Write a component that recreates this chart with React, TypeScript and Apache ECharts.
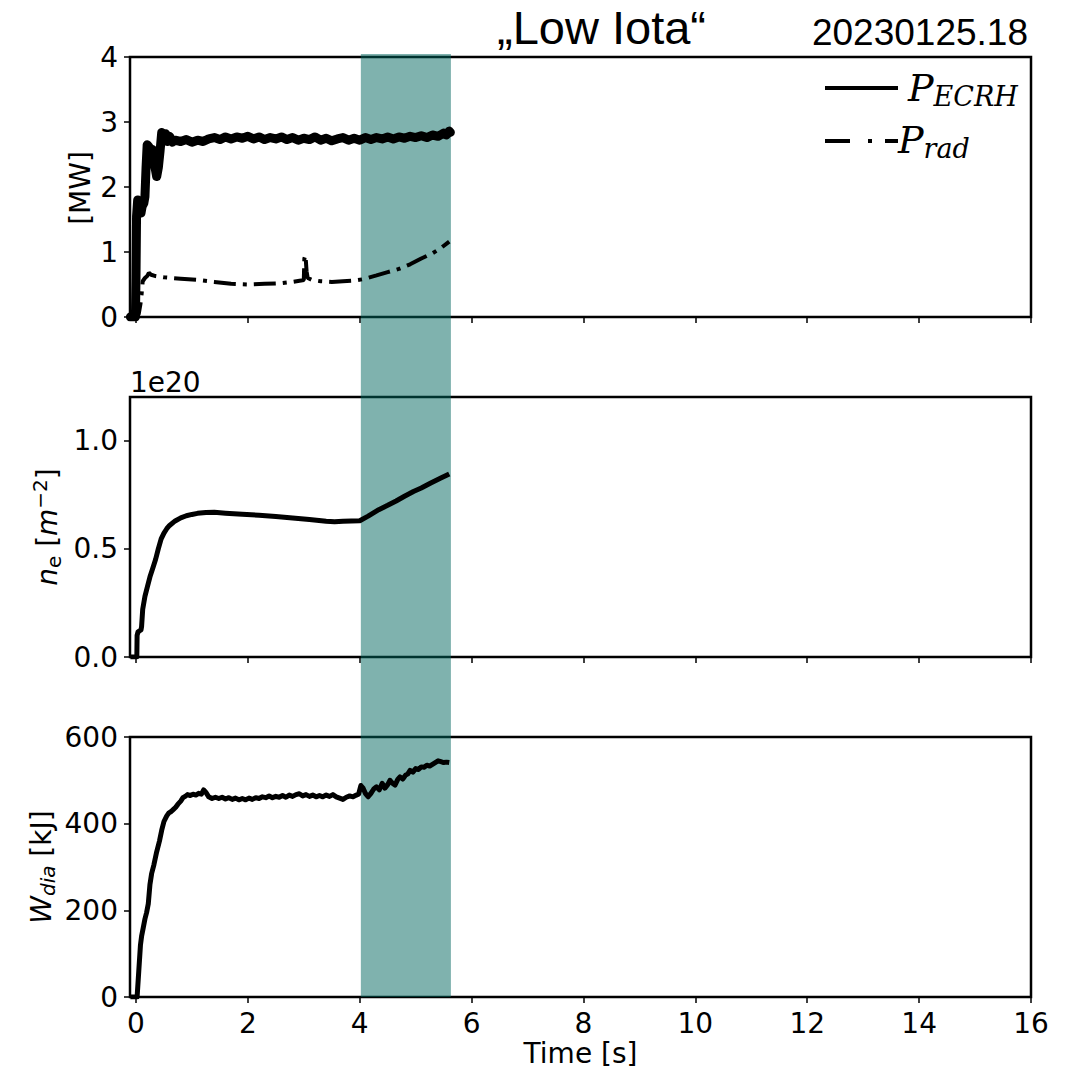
import React, { useEffect, useRef } from "react";
import * as echarts from "echarts";

// ---- data ----
const ecrhT = [-0.1, -0.01, 0.0, 0.01, 0.03, 0.05, 0.07, 0.09, 0.11, 0.14, 0.16, 0.18, 0.2, 0.23, 0.26, 0.29, 0.33, 0.37, 0.4, 0.43, 0.46, 0.5, 0.53, 0.56, 0.6, 0.65, 0.7, 0.8, 0.9, 1.0, 1.1, 1.2, 1.3, 1.4, 1.5, 1.6, 1.7, 1.8, 1.9, 2.0, 2.1, 2.2, 2.3, 2.4, 2.5, 2.6, 2.7, 2.8, 2.9, 3.0, 3.1, 3.2, 3.3, 3.4, 3.5, 3.6, 3.7, 3.8, 3.9, 4.0, 4.1, 4.2, 4.3, 4.4, 4.5, 4.6, 4.7, 4.8, 4.9, 5.0, 5.1, 5.2, 5.3, 5.4, 5.5, 5.55, 5.6, 5.62];
const ecrhV = [0, 0, 0.6, 1.55, 1.8, 1.6, 1.72, 1.6, 1.7, 1.75, 1.85, 2.3, 2.65, 2.62, 2.45, 2.58, 2.35, 2.16, 2.3, 2.55, 2.84, 2.8, 2.82, 2.7, 2.78, 2.69, 2.72, 2.7, 2.73, 2.69, 2.72, 2.7, 2.74, 2.76, 2.73, 2.77, 2.74, 2.77, 2.75, 2.78, 2.74, 2.77, 2.73, 2.76, 2.74, 2.77, 2.73, 2.76, 2.72, 2.75, 2.73, 2.77, 2.72, 2.75, 2.71, 2.74, 2.76, 2.72, 2.75, 2.72, 2.76, 2.73, 2.76, 2.74, 2.77, 2.74, 2.77, 2.75, 2.78, 2.76, 2.79, 2.76, 2.8, 2.78, 2.83, 2.8, 2.86, 2.84];

const pradT = [-0.1, 0.02, 0.05, 0.08, 0.1, 0.12, 0.16, 0.2, 0.23, 0.27, 0.35, 0.5, 0.8, 1.1, 1.4, 1.7, 2.0, 2.3, 2.6, 2.8, 2.95, 3.0, 3.01, 3.03, 3.05, 3.07, 3.15, 3.3, 3.5, 3.7, 3.9, 4.05, 4.3, 4.5, 4.7, 4.9, 5.1, 5.3, 5.45, 5.6];
const pradV = [0, 0, 0.05, 0.2, 0.35, 0.55, 0.6, 0.63, 0.68, 0.65, 0.63, 0.61, 0.59, 0.57, 0.54, 0.51, 0.5, 0.51, 0.52, 0.54, 0.56, 0.57, 0.9, 0.95, 0.7, 0.6, 0.57, 0.55, 0.54, 0.55, 0.56, 0.58, 0.64, 0.69, 0.74, 0.81, 0.9, 0.98, 1.06, 1.16];

const neT = [-0.1, 0.015, 0.02, 0.035, 0.06, 0.09, 0.1, 0.12, 0.16, 0.2, 0.25, 0.3, 0.35, 0.4, 0.45, 0.5, 0.55, 0.6, 0.7, 0.8, 0.9, 1.0, 1.1, 1.25, 1.4, 1.6, 1.9, 2.2, 2.5, 2.8, 3.1, 3.4, 3.55, 3.7, 3.85, 4.0, 4.15, 4.34, 4.5, 4.65, 4.8, 4.96, 5.1, 5.27, 5.45, 5.6];
const neV = [0, 0, 0.1, 0.115, 0.12, 0.125, 0.14, 0.22, 0.28, 0.32, 0.37, 0.41, 0.45, 0.5, 0.545, 0.572, 0.592, 0.607, 0.628, 0.642, 0.652, 0.658, 0.663, 0.667, 0.668, 0.664, 0.659, 0.654, 0.648, 0.642, 0.635, 0.627, 0.624, 0.627, 0.628, 0.629, 0.65, 0.68, 0.7, 0.72, 0.742, 0.764, 0.78, 0.803, 0.826, 0.845];

const wdiaT = [-0.1, 0.02, 0.05, 0.08, 0.1, 0.13, 0.16, 0.19, 0.22, 0.25, 0.28, 0.32, 0.37, 0.42, 0.46, 0.5, 0.55, 0.59, 0.63, 0.67, 0.71, 0.75, 0.8, 0.84, 0.88, 0.92, 0.97, 1.02, 1.07, 1.12, 1.17, 1.21, 1.25, 1.3, 1.36, 1.42, 1.48, 1.54, 1.6, 1.66, 1.72, 1.78, 1.84, 1.9, 1.96, 2.02, 2.08, 2.14, 2.2, 2.26, 2.32, 2.38, 2.44, 2.5, 2.56, 2.62, 2.68, 2.74, 2.8, 2.86, 2.92, 2.98, 3.04, 3.1, 3.16, 3.22, 3.28, 3.34, 3.4, 3.46, 3.52, 3.58, 3.64, 3.7, 3.76, 3.82, 3.88, 3.94, 3.98, 4.02, 4.06, 4.1, 4.15, 4.2, 4.25, 4.3, 4.35, 4.4, 4.45, 4.5, 4.54, 4.58, 4.63, 4.68, 4.72, 4.77, 4.82, 4.86, 4.9, 4.95, 5.0, 5.05, 5.1, 5.15, 5.2, 5.25, 5.3, 5.35, 5.4, 5.45, 5.5, 5.55, 5.6];
const wdiaV = [0, 0, 60, 120, 140, 160, 180, 195, 215, 260, 285, 305, 335, 360, 385, 405, 418, 425, 428, 433, 438, 445, 452, 460, 463, 467, 465, 468, 466, 470, 468, 478, 472, 462, 458, 461, 458, 461, 457, 460, 456, 459, 455, 458, 455, 459, 456, 460, 458, 462, 460, 464, 460, 463, 461, 465, 461, 466, 463, 467, 469, 464, 467, 463, 466, 462, 465, 462, 466, 463, 467, 462, 459, 456, 461, 464, 462, 466, 468, 488, 482, 470, 462, 470, 480, 485, 478, 493, 482, 490, 500, 494, 489, 502, 508, 503, 512, 515, 523, 519, 527, 525, 531, 530, 535, 533, 537, 541, 545, 543, 541, 542, 541];

const xTicks = [0, 2, 4, 6, 8, 10, 12, 14, 16];
const neTicks = [0, 0.5, 1.0];
const bandRange = [4.02, 5.63];

const FONT = "DejaVu Sans";
const pairs = (t: number[], v: number[]) => t.map((x, i) => [x, v[i]]);

export default function App() {
  const ref = useRef<HTMLDivElement>(null);
  useEffect(() => {
    document.body.style.margin = "0";
    const chart = echarts.init(ref.current!, null, { renderer: "svg" });
    const L = 130;
    const W = 901;
    const gridTops = [57, 397, 737];
    const grid: any[] = gridTops.map((t) => ({
      left: L, width: W, top: t, height: 260, show: true,
      borderColor: "#000", borderWidth: 2.5, backgroundColor: "transparent",
      containLabel: false, outerBoundsMode: "none",
    }));
    grid.push({ left: L, width: W, top: 54, height: 943, show: false, containLabel: false, outerBoundsMode: "none" });

    const labelStyle = { fontFamily: FONT, fontSize: 28, color: "#000" };
    const tickStyle = { show: true, inside: false, length: 6, lineStyle: { color: "#000", width: 1.5 } };

    const xAxis: any[] = [0, 1, 2, 3].map((i) => ({
      type: "value", gridIndex: i, min: -0.107, max: 16,
      axisLine: { show: false, onZero: false },
      splitLine: { show: false },
      axisTick: { ...tickStyle, show: i < 3, customValues: xTicks },
      axisLabel: { ...labelStyle, show: i === 2, customValues: xTicks, margin: 12 },
      name: i === 2 ? "Time [s]" : "",
      nameLocation: "middle", nameGap: 42,
      nameTextStyle: { fontFamily: FONT, fontSize: 28, color: "#000" },
    }));

    const yBase = {
      type: "value",
      axisLine: { show: false, onZero: false },
      splitLine: { show: false },
      axisTick: tickStyle,
    };
    const yAxis: any[] = [
      { ...yBase, gridIndex: 0, min: 0, max: 4, interval: 1, axisLabel: { ...labelStyle, margin: 12 } },
      {
        ...yBase, gridIndex: 1, min: 0, max: 1.2,
        axisTick: { ...tickStyle, customValues: neTicks },
        axisLabel: { ...labelStyle, margin: 12, customValues: neTicks, formatter: (v: number) => v.toFixed(1) },
      },
      { ...yBase, gridIndex: 2, min: 0, max: 600, interval: 200, axisLabel: { ...labelStyle, margin: 12 } },
      { type: "value", gridIndex: 3, min: 0, max: 1, show: false },
    ];

    const lineBase = { type: "line", showSymbol: false, symbol: "none", animation: false, silent: true };
    const series: any[] = [
      { ...lineBase, name: "P_ECRH", xAxisIndex: 0, yAxisIndex: 0, data: pairs(ecrhT, ecrhV), lineStyle: { color: "#000", width: 9, join: "round", cap: "round" } },
      { ...lineBase, name: "P_rad", xAxisIndex: 0, yAxisIndex: 0, data: pairs(pradT, pradV), lineStyle: { color: "#000", width: 4, type: [22, 7, 4, 7] } },
      { ...lineBase, name: "n_e", xAxisIndex: 1, yAxisIndex: 1, data: pairs(neT, neV), lineStyle: { color: "#000", width: 5, join: "round" } },
      { ...lineBase, name: "W_dia", xAxisIndex: 2, yAxisIndex: 2, data: pairs(wdiaT, wdiaV), lineStyle: { color: "#000", width: 5, join: "round" } },
      {
        ...lineBase, name: "band", xAxisIndex: 3, yAxisIndex: 3, data: [], z: 10,
        markArea: {
          silent: true,
          itemStyle: { color: "rgba(0,101,93,0.5)", borderWidth: 0 },
          data: [[{ xAxis: bandRange[0] }, { xAxis: bandRange[1] }]],
        },
      },
    ];

    const rich = (fs: number, italic: boolean, lh: number, va: string, fam = FONT) => ({
      fontSize: fs, fontFamily: fam, fontStyle: italic ? "italic" : "normal",
      lineHeight: lh, verticalAlign: va, fill: "#000", color: "#000",
    });

    const graphic: any[] = [
      {
        type: "text", x: 497, y: 27, z: 100,
        style: { text: "\u201ELow Iota\u201C", fontSize: 47, fontFamily: "Liberation Sans", fill: "#000", align: "left", verticalAlign: "middle", textAlign: "left", textVerticalAlign: "middle" },
      },
      {
        type: "text", x: 1028, y: 32, z: 100,
        style: { text: "20230125.18", fontSize: 37, fontFamily: "Liberation Sans", fill: "#000", align: "right", verticalAlign: "middle", textAlign: "right", textVerticalAlign: "middle" },
      },
      {
        type: "text", x: 130, y: 382, z: 100,
        style: { text: "1e20", fontSize: 28, fontFamily: FONT, fill: "#000", align: "left", verticalAlign: "middle", textAlign: "left", textVerticalAlign: "middle" },
      },
      {
        type: "text", x: 80, y: 188, rotation: Math.PI / 2, z: 100,
        style: { text: "[MW]", fontSize: 28, fontFamily: FONT, fill: "#000", align: "center", verticalAlign: "middle", textAlign: "center", textVerticalAlign: "middle" },
      },
      {
        type: "text", x: 47, y: 527, rotation: Math.PI / 2, z: 100,
        style: {
          text: "{i|n}{sub|e}{r| [}{i|m}{sup|\u22122}{r|]}",
          fontSize: 28, fontFamily: FONT, fill: "#000", align: "center", verticalAlign: "middle", textAlign: "center", textVerticalAlign: "middle",
          rich: {
            i: rich(28, true, 34, "middle"),
            r: rich(28, false, 34, "middle"),
            sub: rich(20, false, 22, "bottom"),
            sup: rich(20, false, 22, "top"),
          },
        },
      },
      {
        type: "text", x: 41, y: 867, rotation: Math.PI / 2, z: 100,
        style: {
          text: "{i|W}{sub|dia}{r| [kJ]}",
          fontSize: 28, fontFamily: FONT, fill: "#000", align: "center", verticalAlign: "middle", textAlign: "center", textVerticalAlign: "middle",
          rich: {
            i: rich(28, true, 34, "middle"),
            r: rich(28, false, 34, "middle"),
            sub: rich(20, true, 22, "bottom"),
          },
        },
      },
      // legend
      { type: "line", z: 100, shape: { x1: 825, y1: 88, x2: 898, y2: 88 }, style: { stroke: "#000", lineWidth: 4 } },
      { type: "line", z: 100, shape: { x1: 825, y1: 141, x2: 898, y2: 141 }, style: { stroke: "#000", lineWidth: 4, lineDash: [25, 18, 4, 13] } },
      {
        type: "text", x: 908, y: 88, z: 100,
        style: {
          text: "{p|P}{s|ECRH}", fontSize: 38, fontFamily: "DejaVu Serif", fill: "#000",
          align: "left", verticalAlign: "middle", textAlign: "left", textVerticalAlign: "middle",
          rich: { p: rich(38, true, 44, "middle", "DejaVu Serif"), s: rich(27, true, 22, "bottom", "DejaVu Serif") },
        },
      },
      {
        type: "text", x: 898, y: 140, z: 100,
        style: {
          text: "{p|P}{s|rad}", fontSize: 38, fontFamily: "DejaVu Serif", fill: "#000",
          align: "left", verticalAlign: "middle", textAlign: "left", textVerticalAlign: "middle",
          rich: { p: rich(38, true, 44, "middle", "DejaVu Serif"), s: rich(27, true, 22, "bottom", "DejaVu Serif") },
        },
      },
    ];

    chart.setOption({ animation: false, grid, xAxis, yAxis, series, graphic });
    return () => chart.dispose();
  }, []);
  return <div ref={ref} style={{ position: "absolute", left: 0, top: 0, width: 1073, height: 1074, background: "#fff" }} />;
}
